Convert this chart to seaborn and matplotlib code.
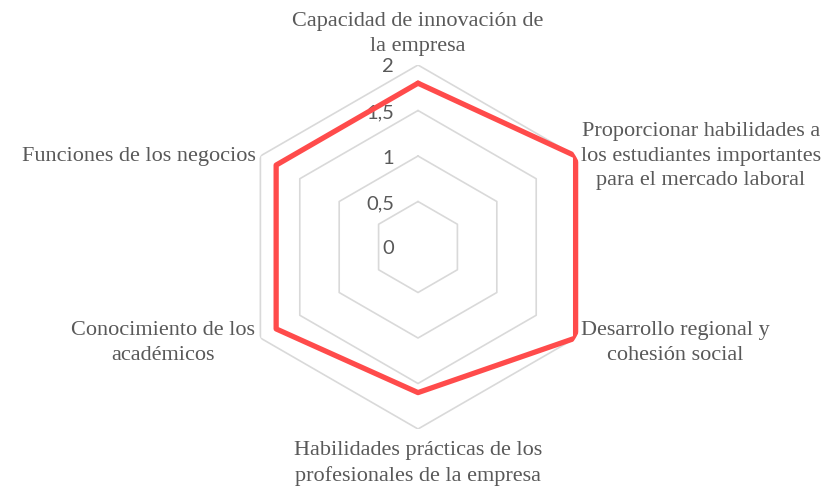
import numpy as np
import seaborn as sns
import matplotlib.pyplot as plt

# Datos del radar (sentido horario desde arriba)
categorias = [
    "Capacidad de innovación de\nla empresa",
    "Proporcionar habilidades a\nlos estudiantes importantes\npara el mercado laboral",
    "Desarrollo regional y\ncohesión social",
    "Habilidades prácticas de los\nprofesionales de la empresa",
    "Conocimiento de los\nacadémicos",
    "Funciones de los negocios",
]
valores = [1.8, 2.0, 2.0, 1.6, 1.8, 1.8]
niveles = [0.5, 1.0, 1.5, 2.0]
etiquetas_niveles = ["0", "0,5", "1", "1,5", "2"]
valores_niveles = [0, 0.5, 1.0, 1.5, 2.0]

sns.set_theme(style="white")
plt.rcParams["font.family"] = ["Liberation Serif", "DejaVu Serif"]

W, H = 836, 493
fig = plt.figure(figsize=(W / 100, H / 100), dpi=100)
cx, cy, R = 418, 247, 182
ax = fig.add_axes([(cx - R) / W, (H - cy - R) / H, 2 * R / W, 2 * R / H], projection="polar")
ax.set_theta_zero_location("N")
ax.set_theta_direction(-1)
ax.set_ylim(0, 2)
ax.grid(False)
ax.spines["polar"].set_visible(False)
ax.set_xticks([])
ax.set_yticks([])
ax.patch.set_alpha(0)

n = len(categorias)
angulos = np.linspace(0, 2 * np.pi, n, endpoint=False)
ang_cerrado = np.append(angulos, 2 * np.pi)

# anillos hexagonales
for nv in niveles:
    ax.plot(ang_cerrado, [nv] * (n + 1), color="#D9D9D9", lw=1.2, zorder=1)

# serie
sns.lineplot(x=ang_cerrado, y=valores + [valores[0]], sort=False, estimator=None,
             ax=ax, color="#FF4B4B", lw=3.8, zorder=3, legend=False)
ax.set_xlabel("")
ax.set_ylabel("")

# etiquetas del eje radial
for v, t in zip(valores_niveles, etiquetas_niveles):
    ax.annotate(t, xy=(0, v), xytext=(-24, -2), textcoords="offset pixels",
                ha="right", va="center", fontsize=14.5, color="#595959",
                family=["Lato", "DejaVu Sans"], zorder=2)

# etiquetas de categorías
posiciones = [
    ((0, 9), "center", "bottom"),
    ((5, 0), "left", "center"),
    ((5, -5), "left", "center"),
    ((0, -12), "center", "top"),
    ((-5, -5), "right", "center"),
    ((-5, 0), "right", "center"),
]
for ang, texto, (off, ha, va) in zip(angulos, categorias, posiciones):
    ax.annotate(texto, xy=(ang, 2), xytext=off, textcoords="offset pixels",
                ha=ha, va=va, multialignment="center", fontsize=16,
                color="#595959", linespacing=1.42, annotation_clip=False)

fig.savefig("out.png", dpi=100)
